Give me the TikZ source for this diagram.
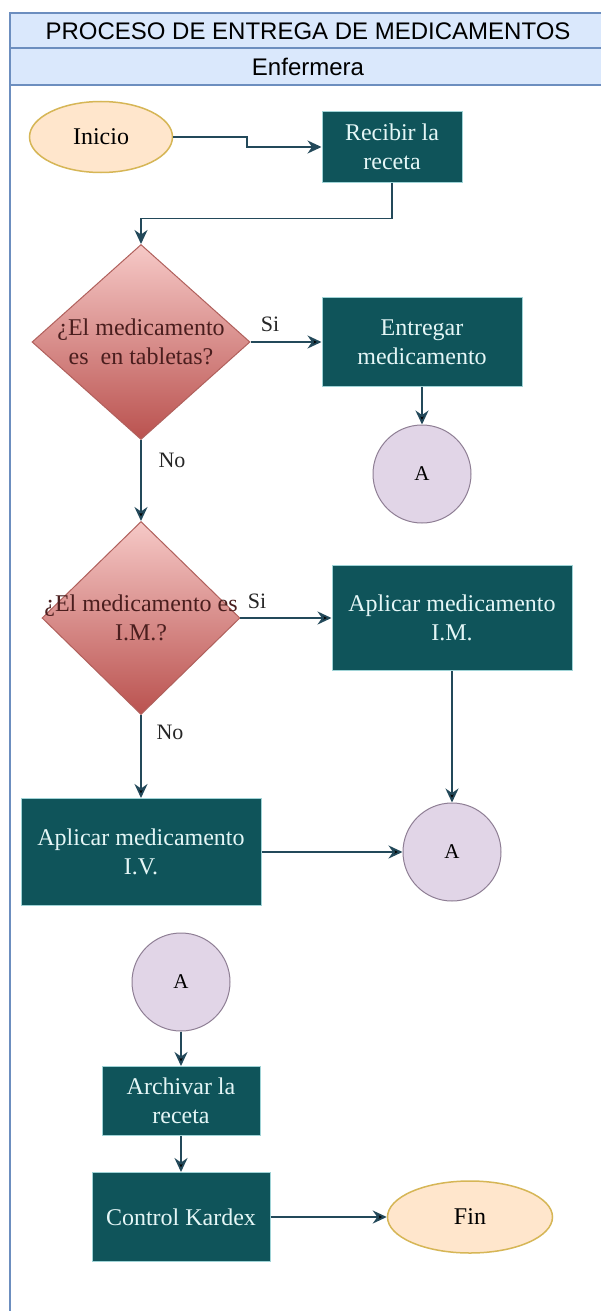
\documentclass[tikz,border=0pt]{standalone}
\usepackage{fontspec}
\setmainfont{Liberation Serif}
\newfontfamily\headfont{Liberation Sans}
\usetikzlibrary{shapes,arrows.meta,positioning}
\definecolor{laneline}{HTML}{6C8EBF}
\definecolor{lanefill}{HTML}{DAE8FC}
\definecolor{boxfill}{HTML}{0F545A}
\definecolor{boxedge}{HTML}{9FD3D6}
\definecolor{boxtext}{HTML}{E4F6F6}
\definecolor{dectop}{HTML}{F6C9C7}
\definecolor{decbot}{HTML}{BA524F}
\definecolor{decline}{HTML}{B0605C}
\definecolor{dectext}{HTML}{4A1E1E}
\definecolor{termfill}{HTML}{FFE6CC}
\definecolor{termline}{HTML}{D6B656}
\definecolor{confill}{HTML}{E1D5E7}
\definecolor{conline}{HTML}{8E7E94}
\definecolor{flowcol}{HTML}{23495A}

\begin{document}
\begin{tikzpicture}[x=1pt,y=-1pt,
    proc/.style={rectangle,draw=boxedge,line width=1pt,fill=boxfill,text=boxtext,align=center,font=\fontsize{24}{29}\selectfont},
    decision/.style={diamond,draw=decline,line width=1pt,top color=dectop,bottom color=decbot,inner sep=0pt},
    terminal/.style={ellipse,draw=termline,line width=1.5pt,fill=termfill,font=\fontsize{24}{29}\selectfont},
    connector/.style={circle,draw=conline,line width=1pt,fill=confill,minimum size=98pt,font=\fontsize{21}{25}\selectfont},
    flow/.style={draw=flowcol,line width=1.8pt,-{Stealth[length=14pt,width=13pt]}},
    answer/.style={font=\fontsize{22}{26}\selectfont,text=black!85},
    lane/.style={draw=laneline,line width=1.5pt}]
    \useasboundingbox (0,0) rectangle (601,1311);
    \clip (0,0) rectangle (601,1311);

    % carril
    \fill[white] (0,0) rectangle (601,1311);
    \draw[lane,fill=lanefill] (10,13) rectangle (606,48);
    \draw[lane,fill=lanefill] (10,48) rectangle (606,85);
    \draw[lane] (10,85) -- (10,1320);
    \node[font=\headfont\fontsize{24}{28}\selectfont] (titulo) at (308,31) {PROCESO DE ENTREGA DE MEDICAMENTOS};
    \node[font=\headfont\fontsize{24}{28}\selectfont] (rol) at (308,67) {Enfermera};

    \node[terminal,minimum width=143pt,minimum height=71pt] (inicio) at (101,137) {Inicio};
    \node[proc,minimum width=140pt,minimum height=70pt] (recibir) at (392,147) {Recibir la\\receta};
    \node[decision,minimum width=218pt,minimum height=195pt,
      label={[align=center,text=dectext,font=\fontsize{24}{29}\selectfont]center:{¿El medicamento\\es~ en tabletas?}}] (tabletas) at (141,342) {};
    \node[proc,minimum width=200pt,minimum height=89pt] (entregar) at (422,342) {Entregar\\medicamento};
    \node[connector] (contA) at (422,474) {A};
    \node[decision,minimum width=198pt,minimum height=193pt,
      label={[align=center,text=dectext,font=\fontsize{24}{29}\selectfont]center:{¿El medicamento es\\I.M.?}}] (intram) at (141,618) {};
    \node[proc,minimum width=240pt,minimum height=105pt] (aplicarIM) at (452,618) {Aplicar medicamento\\I.M.};
    \node[proc,minimum width=240pt,minimum height=107pt] (aplicarIV) at (141,852) {Aplicar medicamento\\I.V.};
    \node[connector] (contB) at (452,852) {A};
    \node[connector] (contC) at (181,982) {A};
    \node[proc,minimum width=158pt,minimum height=69pt] (archivar) at (181,1101) {Archivar la\\receta};
    \node[proc,minimum width=178pt,minimum height=89pt] (kardex) at (181,1217) {Control Kardex};
    \node[terminal,minimum width=165pt,minimum height=72pt] (fin) at (470,1217) {Fin};

    \node[answer] (si1) at (270,324) {Si};
    \node[answer] (no1) at (172,460) {No};
    \node[answer] (si2) at (257,601) {Si};
    \node[answer] (no2) at (170,732) {No};

    \draw[flow] (inicio.east) -- ++(74,0) |- (recibir.west);
    \draw[flow] (recibir.south) -- ++(0,36) -| (tabletas.north);
    \draw[flow] (tabletas) edge (entregar)
      (entregar) edge (contA)
      (tabletas) edge (intram)
      (intram) edge (aplicarIM)
      (intram) edge (aplicarIV)
      (aplicarIM) edge (contB)
      (aplicarIV) edge (contB)
      (contC) edge (archivar)
      (archivar) edge (kardex)
      (kardex) edge (fin);
\end{tikzpicture}
\end{document}
